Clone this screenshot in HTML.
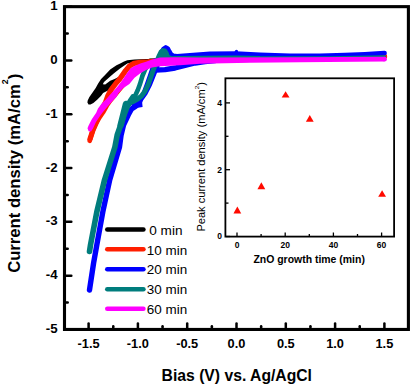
<!DOCTYPE html>
<html><head><meta charset="utf-8"><style>
html,body{margin:0;padding:0;background:#fff;}
svg{display:block;}
text{font-family:"Liberation Sans", sans-serif;}
.tl{font-weight:bold;font-size:12.8px;}
.ttl{font-weight:bold;font-size:16px;}
.ttl2{font-weight:bold;font-size:17px;}
.lg{font-size:12.6px;}
.itl{font-weight:bold;font-size:8.5px;}
.ittl{font-weight:bold;font-size:10px;}
.ittl2{font-size:10.4px;}
</style></head><body>
<svg width="411" height="385" viewBox="0 0 411 385">
<rect x="64.5" y="6.65" width="343.9" height="322.8" fill="none" stroke="#000" stroke-width="3.1"/>
<line x1="65" y1="6.65" x2="71.3" y2="6.65" stroke="#000" stroke-width="2.5" stroke-linecap="round"/>
<line x1="65" y1="33.55" x2="67.7" y2="33.55" stroke="#000" stroke-width="2.5" stroke-linecap="round"/>
<line x1="65" y1="60.45" x2="71.3" y2="60.45" stroke="#000" stroke-width="2.5" stroke-linecap="round"/>
<line x1="65" y1="87.35" x2="67.7" y2="87.35" stroke="#000" stroke-width="2.5" stroke-linecap="round"/>
<line x1="65" y1="114.25" x2="71.3" y2="114.25" stroke="#000" stroke-width="2.5" stroke-linecap="round"/>
<line x1="65" y1="141.15" x2="67.7" y2="141.15" stroke="#000" stroke-width="2.5" stroke-linecap="round"/>
<line x1="65" y1="168.05" x2="71.3" y2="168.05" stroke="#000" stroke-width="2.5" stroke-linecap="round"/>
<line x1="65" y1="194.95" x2="67.7" y2="194.95" stroke="#000" stroke-width="2.5" stroke-linecap="round"/>
<line x1="65" y1="221.85" x2="71.3" y2="221.85" stroke="#000" stroke-width="2.5" stroke-linecap="round"/>
<line x1="65" y1="248.75" x2="67.7" y2="248.75" stroke="#000" stroke-width="2.5" stroke-linecap="round"/>
<line x1="65" y1="275.65" x2="71.3" y2="275.65" stroke="#000" stroke-width="2.5" stroke-linecap="round"/>
<line x1="65" y1="302.55" x2="67.7" y2="302.55" stroke="#000" stroke-width="2.5" stroke-linecap="round"/>
<line x1="65" y1="329.45" x2="71.3" y2="329.45" stroke="#000" stroke-width="2.5" stroke-linecap="round"/>
<line x1="88.60" y1="328.5" x2="88.60" y2="323.6" stroke="#000" stroke-width="2.5" stroke-linecap="round"/>
<line x1="113.25" y1="328.5" x2="113.25" y2="326.3" stroke="#000" stroke-width="2.5" stroke-linecap="round"/>
<line x1="137.90" y1="328.5" x2="137.90" y2="323.6" stroke="#000" stroke-width="2.5" stroke-linecap="round"/>
<line x1="162.55" y1="328.5" x2="162.55" y2="326.3" stroke="#000" stroke-width="2.5" stroke-linecap="round"/>
<line x1="187.20" y1="328.5" x2="187.20" y2="323.6" stroke="#000" stroke-width="2.5" stroke-linecap="round"/>
<line x1="211.85" y1="328.5" x2="211.85" y2="326.3" stroke="#000" stroke-width="2.5" stroke-linecap="round"/>
<line x1="236.50" y1="328.5" x2="236.50" y2="323.6" stroke="#000" stroke-width="2.5" stroke-linecap="round"/>
<line x1="261.15" y1="328.5" x2="261.15" y2="326.3" stroke="#000" stroke-width="2.5" stroke-linecap="round"/>
<line x1="285.80" y1="328.5" x2="285.80" y2="323.6" stroke="#000" stroke-width="2.5" stroke-linecap="round"/>
<line x1="310.45" y1="328.5" x2="310.45" y2="326.3" stroke="#000" stroke-width="2.5" stroke-linecap="round"/>
<line x1="335.10" y1="328.5" x2="335.10" y2="323.6" stroke="#000" stroke-width="2.5" stroke-linecap="round"/>
<line x1="359.75" y1="328.5" x2="359.75" y2="326.3" stroke="#000" stroke-width="2.5" stroke-linecap="round"/>
<line x1="384.40" y1="328.5" x2="384.40" y2="323.6" stroke="#000" stroke-width="2.5" stroke-linecap="round"/>
<text x="57.6" y="10.15" text-anchor="end" class="tl" style="font-size:13.3px">1</text>
<text x="57.6" y="63.95" text-anchor="end" class="tl" style="font-size:13.3px">0</text>
<text x="57.6" y="117.75" text-anchor="end" class="tl" style="font-size:13.3px">-1</text>
<text x="57.6" y="171.55" text-anchor="end" class="tl" style="font-size:13.3px">-2</text>
<text x="57.6" y="225.35" text-anchor="end" class="tl" style="font-size:13.3px">-3</text>
<text x="57.6" y="279.15" text-anchor="end" class="tl" style="font-size:13.3px">-4</text>
<text x="57.6" y="332.95" text-anchor="end" class="tl" style="font-size:13.3px">-5</text>
<text x="88.60" y="348" text-anchor="middle" class="tl">-1.5</text>
<text x="137.90" y="348" text-anchor="middle" class="tl">-1.0</text>
<text x="187.20" y="348" text-anchor="middle" class="tl">-0.5</text>
<text x="236.50" y="348" text-anchor="middle" class="tl">0.0</text>
<text x="285.80" y="348" text-anchor="middle" class="tl">0.5</text>
<text x="335.10" y="348" text-anchor="middle" class="tl">1.0</text>
<text x="384.40" y="348" text-anchor="middle" class="tl">1.5</text>
<text x="161.6" y="380.6" class="ttl" textLength="150.4" lengthAdjust="spacingAndGlyphs">Bias (V) vs. Ag/AgCl</text>
<text transform="translate(19.5,272.8) rotate(-90)" x="0" y="0" class="ttl2" textLength="199" lengthAdjust="spacingAndGlyphs">Current density (mA/cm<tspan dy="-11.5" font-size="9">2</tspan><tspan dy="11.5">)</tspan></text>
<polygon points="87.4,102.5 87.7,100.6 89.4,97.1 92.9,92 95.7,88 98,83.7 101.1,79.1 105.5,74.5 110.2,69.6 116.5,65.2 120.2,63.4 124,61.5 127.3,60.3 134.5,59.5 146,59 160,58.8 160,61.6 146,61.8 134.5,62 127.3,63.5 124,65.8 120,68.5 114,73.3 110.2,76.5 104,82.1 102.8,84.2 105.2,84.6 110.2,80.8 114.6,79 118.5,77 120,79 114.6,82.5 111,87.5 108,90.5 106,91.5 103.1,93.1 100.9,96 97.4,99.4 93.4,102.9 90.5,104.5 88.5,104.4" fill="#000"/>
<path d="M150.0,60.3 L200.0,59.8 L300.0,58.5 L384.5,56.5" fill="none" stroke="#000" stroke-width="3.5" stroke-linejoin="round" stroke-linecap="round"/>
<path d="M90.0,139.0 L93.0,130.0 L97.0,121.0 L101.5,110.0 L105.7,102.0 L108.0,95.5 L111.2,89.6 L116.2,83.0 L119.9,78.7 L125.6,70.6 L129.5,66.0 L134.0,63.4 L140.0,62.4 L148.0,62.0 L160.0,61.0 L200.0,60.0 L300.0,58.5 L384.5,56.5" fill="none" stroke="#ff1e00" stroke-width="5.3" stroke-linejoin="round" stroke-linecap="round"/>
<path d="M89.7,140.8 L92.6,131.0 L95.5,124.0 L98.7,118.8 L103.1,112.3 L106.7,105.8 L110.2,100.7 L114.5,95.5 L119.0,90.0 L124.0,84.0 L128.0,79.0" fill="none" stroke="#ff1e00" stroke-width="4.6" stroke-linejoin="round" stroke-linecap="round"/>
<path d="M89.5,290.0 L93.6,263.0 L96.8,245.0 L102.8,212.0 L109.7,180.0 L119.5,147.0 L121.1,135.0 L123.5,125.0 L128.2,115.0 L131.5,109.0 L135.3,106.5 L138.7,103.4 L141.2,98.4 L145.3,92.6 L149.5,84.3 L152.8,76.0 L156.0,68.0 L157.5,64.0" fill="none" stroke="#0000ff" stroke-width="5.4" stroke-linejoin="round" stroke-linecap="round"/>
<path d="M156.0,68.0 L158.8,60.0 L161.3,52.8 L163.6,48.9 L165.8,47.5 L167.6,48.5 L169.1,51.3 L170.8,54.3 L173.5,56.0 L177.0,56.4 L190.0,55.5 L210.0,54.0 L236.0,53.7 L260.0,55.0 L290.0,56.0 L320.0,55.9 L345.0,55.2 L365.0,54.3 L384.5,53.1" fill="none" stroke="#0000ff" stroke-width="4.8" stroke-linejoin="round" stroke-linecap="round"/>
<rect x="234.9" y="50.8" width="3.1" height="3" fill="#0000ff"/><circle cx="236.45" cy="51.2" r="1.55" fill="#0000ff"/>
<path d="M131,104 L142,101 L142.6,107 L133,108.5 Z" fill="#0000ff"/>
<path d="M156.0,70.0 L165.0,69.6 L175.0,68.0 L185.0,65.5 L195.0,63.0 L205.0,61.5 L215.0,60.5" fill="none" stroke="#0000ff" stroke-width="5.4" stroke-linejoin="round" stroke-linecap="round"/>
<path d="M89.5,251.5 L90.5,245.0 L96.8,212.0 L104.5,180.0 L114.9,147.0 L117.2,135.0 L120.7,125.0 L124.0,115.0 L127.5,106.0 L131.0,100.0 L133.0,97.0" fill="none" stroke="#007d7d" stroke-width="5.6" stroke-linejoin="round" stroke-linecap="round"/>
<path d="M131.0,100.0 L135.5,95.0 L137.8,90.0 L139.9,84.3 L142.4,76.0 L145.3,69.0 L149.0,64.5 L154.0,62.0 L165.0,61.0 L200.0,60.5" fill="none" stroke="#007d7d" stroke-width="4.6" stroke-linejoin="round" stroke-linecap="round"/>
<path d="M145.0,91.0 L147.4,84.3 L150.3,76.0 L153.0,68.0 L155.6,61.0" fill="none" stroke="#0000ff" stroke-width="5.2" stroke-linejoin="round" stroke-linecap="round"/>
<path d="M128.0,104.0 L133.0,101.5 L137.6,99.0 L141.5,96.0 L144.8,91.5 L148.3,84.3 L151.2,76.0 L154.0,68.0 L157.0,61.0 L159.3,55.5 L161.0,52.0 L162.8,50.6 L164.8,51.0 L166.3,53.5 L167.4,57.0 L170.0,58.0" fill="none" stroke="#007d7d" stroke-width="5.0" stroke-linejoin="round" stroke-linecap="round"/>
<path d="M168.0,58.0 L180.0,57.8 L236.0,57.2 L260.0,57.8 L330.0,58.0 L384.5,57.0" fill="none" stroke="#007d7d" stroke-width="3.4" stroke-linejoin="round" stroke-linecap="round"/>
<polygon points="156.5,59 157.6,55 160.3,50.6 162.3,49.2 164.6,49.6 166.5,53.2 167.6,58" fill="#007d7d"/>
<path d="M126.0,104.0 L120.7,125.0" fill="none" stroke="#007d7d" stroke-width="6.5" stroke-linejoin="round" stroke-linecap="round"/>
<polygon points="87.5,128.2 88.6,125.4 91.8,119.2 96.2,112.8 98,108.6 101.7,103.6 106.1,99.2 110.2,94.6 115,89.4 118.2,85.8 123.2,79.1 126.9,73.3 130.6,68.3 134.5,66 140.3,63.5 146,61.8 152,59.6 160,57.6 175,57.3 200,57.5 300,57.3 384.5,56.8 384.5,61.5 300,62.3 250,62.8 200,63.8 180,65.2 170,65.8 160,66.3 152,67.5 146,70 140,73.6 134.5,77.8 129.4,84 122.7,88.6 118.5,93 116.7,96.7 113,100.5 108,106.1 103,112 100,116 96,122 93,128.5 91,131.5 88.6,131.2" fill="#ff00ff"/>
<circle cx="384.5" cy="59.2" r="2.4" fill="#ff00ff"/>
<line x1="107.3" y1="229.5" x2="143.4" y2="229.5" stroke="#000" stroke-width="4.6" stroke-linecap="round"/>
<text x="149.3" y="234.7" class="lg" textLength="33.2" lengthAdjust="spacingAndGlyphs">0 min</text>
<line x1="107.3" y1="249.3" x2="143.4" y2="249.3" stroke="#ff1e00" stroke-width="4.6" stroke-linecap="round"/>
<text x="146.8" y="254.5" class="lg" textLength="40.4" lengthAdjust="spacingAndGlyphs">10 min</text>
<line x1="107.3" y1="269.2" x2="143.4" y2="269.2" stroke="#0000ff" stroke-width="4.6" stroke-linecap="round"/>
<text x="146.8" y="274.4" class="lg" textLength="40.4" lengthAdjust="spacingAndGlyphs">20 min</text>
<line x1="107.3" y1="289.2" x2="143.4" y2="289.2" stroke="#007d7d" stroke-width="4.6" stroke-linecap="round"/>
<text x="146.8" y="294.4" class="lg" textLength="40.4" lengthAdjust="spacingAndGlyphs">30 min</text>
<line x1="107.3" y1="308.8" x2="143.4" y2="308.8" stroke="#ff00ff" stroke-width="4.6" stroke-linecap="round"/>
<text x="146.8" y="314.0" class="lg" textLength="40.4" lengthAdjust="spacingAndGlyphs">60 min</text>
<rect x="225.4" y="78.3" width="168.7" height="158.3" fill="#fff" stroke="#000" stroke-width="1.8"/>
<line x1="226" y1="236.50" x2="230" y2="236.50" stroke="#000" stroke-width="1.3"/>
<line x1="226" y1="203.10" x2="228.5" y2="203.10" stroke="#000" stroke-width="1.3"/>
<line x1="226" y1="169.70" x2="230" y2="169.70" stroke="#000" stroke-width="1.3"/>
<line x1="226" y1="136.30" x2="228.5" y2="136.30" stroke="#000" stroke-width="1.3"/>
<line x1="226" y1="102.90" x2="230" y2="102.90" stroke="#000" stroke-width="1.3"/>
<line x1="237.00" y1="236" x2="237.00" y2="232.5" stroke="#000" stroke-width="1.3"/>
<line x1="261.10" y1="236" x2="261.10" y2="234" stroke="#000" stroke-width="1.3"/>
<line x1="285.20" y1="236" x2="285.20" y2="232.5" stroke="#000" stroke-width="1.3"/>
<line x1="309.30" y1="236" x2="309.30" y2="234" stroke="#000" stroke-width="1.3"/>
<line x1="333.40" y1="236" x2="333.40" y2="232.5" stroke="#000" stroke-width="1.3"/>
<line x1="357.50" y1="236" x2="357.50" y2="234" stroke="#000" stroke-width="1.3"/>
<line x1="381.60" y1="236" x2="381.60" y2="232.5" stroke="#000" stroke-width="1.3"/>
<text x="222" y="239.40" text-anchor="end" class="itl">0</text>
<text x="222" y="172.60" text-anchor="end" class="itl">2</text>
<text x="222" y="105.80" text-anchor="end" class="itl">4</text>
<text x="237.00" y="247.7" text-anchor="middle" class="itl">0</text>
<text x="285.20" y="247.7" text-anchor="middle" class="itl">20</text>
<text x="333.40" y="247.7" text-anchor="middle" class="itl">40</text>
<text x="381.60" y="247.7" text-anchor="middle" class="itl">60</text>
<text x="253.4" y="263.1" class="ittl" textLength="111.5" lengthAdjust="spacingAndGlyphs">ZnO growth time (min)</text>
<text transform="translate(205.4,231.6) rotate(-90)" class="ittl2" textLength="149.5" lengthAdjust="spacingAndGlyphs">Peak current density (mA/cm<tspan dy="-6.5" font-size="6">2</tspan><tspan dy="6.5">)</tspan></text>
<polygon points="237.35,206.4 233.45,213.4 241.25,213.4" fill="#ff0a00"/>
<polygon points="261.35,182.3 257.45,189.3 265.25,189.3" fill="#ff0a00"/>
<polygon points="285.60,91.2 281.70,97.6 289.50,97.6" fill="#ff0a00"/>
<polygon points="309.80,115 305.90,121.8 313.70,121.8" fill="#ff0a00"/>
<polygon points="382.10,190.3 378.20,196.8 386.00,196.8" fill="#ff0a00"/>
</svg>
</body></html>
